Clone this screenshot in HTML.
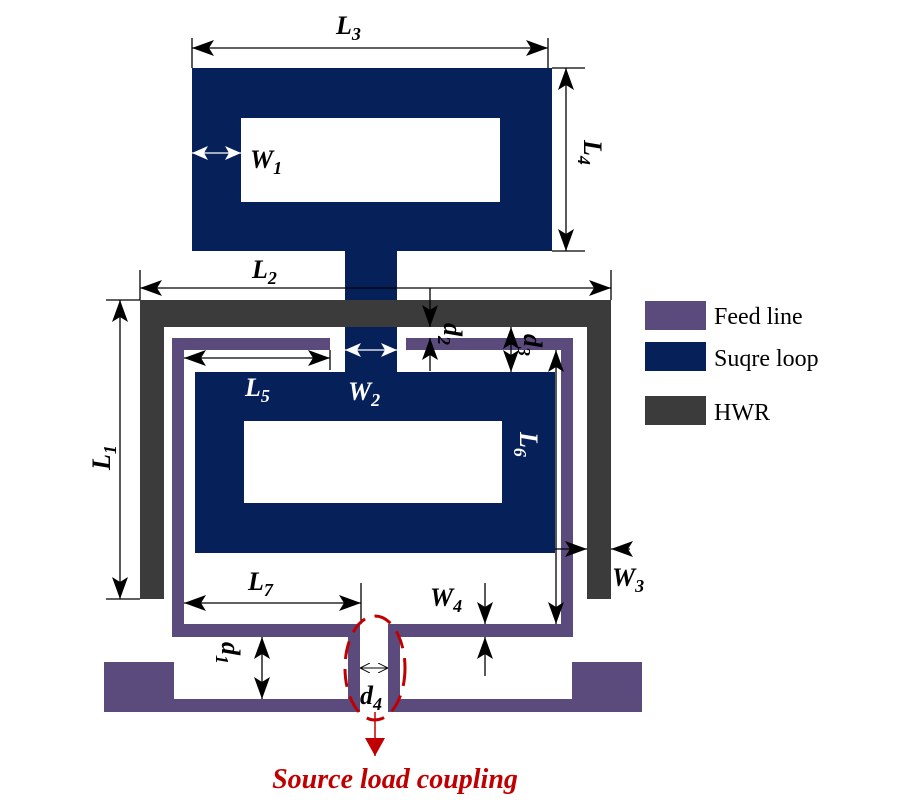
<!DOCTYPE html>
<html><head><meta charset="utf-8"><style>
html,body{margin:0;padding:0;background:#fff;}
svg{display:block}
text{font-family:"Liberation Serif",serif;font-style:italic;font-weight:bold;fill:#000}
</style></head><body>
<svg width="900" height="800" viewBox="0 0 900 800" xmlns="http://www.w3.org/2000/svg">
<defs>
<marker id="a" viewBox="0 0 22 16" refX="22" refY="8" markerWidth="22" markerHeight="16" markerUnits="userSpaceOnUse" orient="auto-start-reverse"><path d="M0,0 L22,8 L0,16 L5,8 Z" fill="#000"/></marker>
<marker id="w" viewBox="0 0 16 14" refX="16" refY="7" markerWidth="16" markerHeight="14" markerUnits="userSpaceOnUse" orient="auto-start-reverse"><path d="M0,0 L16,7 L0,14 L4,7 Z" fill="#fff"/></marker>
<marker id="r" viewBox="0 0 18 20" refX="18" refY="10" markerWidth="18" markerHeight="20" markerUnits="userSpaceOnUse" orient="auto"><path d="M0,0 L18,10 L0,20 Z" fill="#c00000"/></marker>
<marker id="t" viewBox="0 0 10 10" refX="10" refY="5" markerWidth="10" markerHeight="10" markerUnits="userSpaceOnUse" orient="auto-start-reverse"><path d="M0,0 L10,5 L0,10" fill="none" stroke="#000" stroke-width="1"/></marker>
</defs>
<path d="M192,68 H552 V251 H192 Z M241,118 V202 H500 V118 Z" fill="#06205a" fill-rule="evenodd"/>
<rect x="345" y="250" width="52" height="123" fill="#06205a"/>
<path d="M195,372 H555 V553 H195 Z M244,421 V503 H502 V421 Z" fill="#06205a" fill-rule="evenodd"/>
<path d="M140,300 H611 V599 H587 V327 H164 V599 H140 Z" fill="#3b3b3b"/>
<g fill="#5b4a7c">
<rect x="172" y="338" width="158" height="12"/>
<rect x="406" y="338" width="167" height="12"/>
<rect x="172" y="338" width="12" height="299"/>
<rect x="561" y="338" width="12" height="299"/>
<rect x="172" y="624" width="188" height="13"/>
<rect x="388" y="624" width="185" height="13"/>
<rect x="348" y="624" width="12" height="88"/>
<rect x="388" y="624" width="12" height="88"/>
<rect x="104" y="662" width="70" height="50"/>
<rect x="572" y="662" width="70" height="50"/>
<rect x="104" y="699" width="256" height="13"/>
<rect x="388" y="699" width="254" height="13"/>
</g>
<rect x="645" y="301" width="61" height="29" fill="#5b4a7c"/>
<rect x="645" y="342" width="61" height="29" fill="#06205a"/>
<rect x="645" y="396" width="61" height="29" fill="#3b3b3b"/>
<g font-size="24">
<text x="714" y="324" style="font-style:normal;font-weight:normal">Feed line</text>
<text x="714" y="366" style="font-style:normal;font-weight:normal">Suqre loop</text>
<text x="714" y="420" style="font-style:normal;font-weight:normal">HWR</text>
</g>
<g stroke="#000" stroke-width="1.3" fill="none">
<line x1="192" y1="38" x2="192" y2="68"/><line x1="548" y1="38" x2="548" y2="68"/>
<line x1="192" y1="48" x2="548" y2="48" marker-start="url(#a)" marker-end="url(#a)"/>
<line x1="552" y1="68" x2="585" y2="68"/><line x1="552" y1="251" x2="585" y2="251"/>
<line x1="566" y1="68" x2="566" y2="251" marker-start="url(#a)" marker-end="url(#a)"/>
<line x1="140" y1="270" x2="140" y2="300"/><line x1="611" y1="270" x2="611" y2="300"/>
<line x1="140" y1="288" x2="611" y2="288" marker-start="url(#a)" marker-end="url(#a)"/>
<line x1="106" y1="300" x2="140" y2="300"/><line x1="106" y1="599" x2="140" y2="599"/>
<line x1="120" y1="300" x2="120" y2="599" marker-start="url(#a)" marker-end="url(#a)"/>
<line x1="430" y1="288" x2="430" y2="327" marker-end="url(#a)"/>
<line x1="430" y1="371" x2="430" y2="338" marker-end="url(#a)"/>
<line x1="511" y1="327" x2="511" y2="372" marker-start="url(#a)" marker-end="url(#a)"/>
<line x1="184" y1="358" x2="330" y2="358" marker-start="url(#a)" marker-end="url(#a)"/>
<line x1="330" y1="350" x2="330" y2="370"/>
<line x1="556" y1="350" x2="556" y2="624" marker-start="url(#a)" marker-end="url(#a)"/>
<line x1="555" y1="549" x2="587" y2="549" marker-end="url(#a)"/>
<line x1="630" y1="549" x2="611" y2="549" marker-end="url(#a)"/>
<line x1="184" y1="603" x2="361" y2="603" marker-start="url(#a)" marker-end="url(#a)"/>
<line x1="361" y1="583" x2="361" y2="624"/>
<line x1="485" y1="583" x2="485" y2="624" marker-end="url(#a)"/>
<line x1="485" y1="676" x2="485" y2="637" marker-end="url(#a)"/>
<line x1="262" y1="637" x2="262" y2="699" marker-start="url(#a)" marker-end="url(#a)"/>
<line x1="360" y1="668" x2="388" y2="668" stroke-width="1" marker-start="url(#t)" marker-end="url(#t)"/>
</g>
<g stroke="#fff" stroke-width="1.3">
<line x1="192" y1="153" x2="241" y2="153" marker-start="url(#w)" marker-end="url(#w)"/>
<line x1="345" y1="350" x2="397" y2="350" marker-start="url(#w)" marker-end="url(#w)"/>
</g>
<ellipse cx="375" cy="668" rx="30" ry="52" fill="none" stroke="#c00000" stroke-width="3" stroke-dasharray="18,10"/>
<line x1="375" y1="712" x2="375" y2="756" stroke="#c00000" stroke-width="1.5" marker-end="url(#r)"/>
<text x="395" y="788" text-anchor="middle" font-size="28" style="fill:#c00000">Source load coupling</text>
<g font-size="26">
<text x="336" y="34">L<tspan font-size="18" dy="6">3</tspan></text>
<text x="250" y="168">W<tspan font-size="18" dy="6">1</tspan></text>
<text transform="translate(584,140) rotate(90)">L<tspan font-size="18" dy="6">4</tspan></text>
<text x="252" y="278">L<tspan font-size="18" dy="6">2</tspan></text>
<text transform="translate(110,470) rotate(-90)">L<tspan font-size="18" dy="6">1</tspan></text>
<text transform="translate(444,323) rotate(90)">d<tspan font-size="18" dy="6">2</tspan></text>
<text transform="translate(524,334) rotate(90)">d<tspan font-size="18" dy="6">3</tspan></text>
<text x="245" y="396" style="fill:#fff">L<tspan font-size="18" dy="6">5</tspan></text>
<text x="348" y="400" style="fill:#fff">W<tspan font-size="18" dy="6">2</tspan></text>
<text transform="translate(520,432) rotate(90)" style="fill:#fff">L<tspan font-size="18" dy="6">6</tspan></text>
<text x="612" y="586">W<tspan font-size="18" dy="6">3</tspan></text>
<text x="248" y="590">L<tspan font-size="18" dy="6">7</tspan></text>
<text x="430" y="606">W<tspan font-size="18" dy="6">4</tspan></text>
<text transform="translate(222,642) rotate(90)">d<tspan font-size="18" dy="6">1</tspan></text>
<text x="360" y="704">d<tspan font-size="18" dy="6">4</tspan></text>
</g>
</svg>
</body></html>
